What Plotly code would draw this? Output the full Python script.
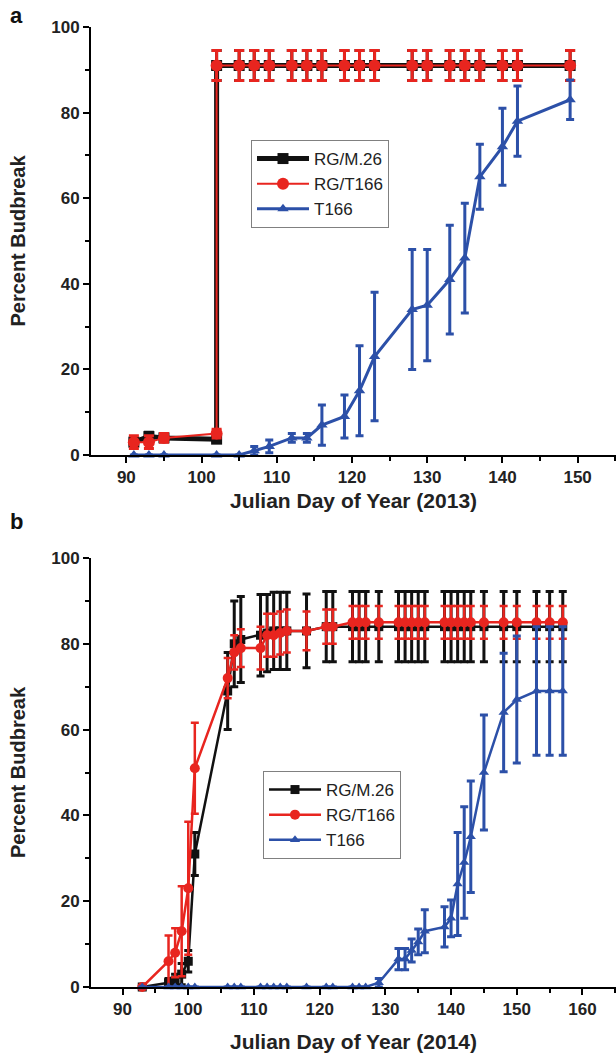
import plotly.graph_objects as go

# ---------------- Panel a (2013) ----------------
days_a_rg = [91, 93, 95, 102, 102, 105, 107, 109, 112, 114, 116, 119, 121, 123,
             128, 130, 133, 135, 137, 140, 142, 149]
m26_a = [3, 4.3, 4, 3.7, 91, 91, 91, 91, 91, 91, 91, 91, 91, 91, 91, 91, 91, 91, 91, 91, 91, 91]
m26_a_err = [0.5, 1, 0.5, 0.5, 3.5, 3.5, 3.5, 3.5, 3.5, 3.5, 3.5, 3.5, 3.5, 3.5,
             3.5, 3.5, 3.5, 3.5, 3.5, 3.5, 3.5, 3.5]
rgt166_a = [3, 3, 4, 5, 91, 91, 91, 91, 91, 91, 91, 91, 91, 91, 91, 91, 91, 91, 91, 91, 91, 91]
rgt166_a_err = [1.5, 1.5, 1, 1, 3.5, 3.5, 3.5, 3.5, 3.5, 3.5, 3.5, 3.5, 3.5, 3.5,
                3.5, 3.5, 3.5, 3.5, 3.5, 3.5, 3.5, 3.5]

days_a_t = [91, 93, 95, 102, 105, 107, 109, 112, 114, 116, 119, 121, 123, 128,
            130, 133, 135, 137, 140, 142, 149]
t166_a = [0, 0, 0, 0, 0, 1, 2, 4, 4, 7, 9, 15, 23, 34, 35, 41, 46, 65, 72, 78, 83]
t166_a_err = [0, 0, 0, 0, 0, 1, 1.5, 1, 1, 4.7, 5, 10.5, 15, 14, 13, 12.7, 12.8,
              7.6, 9, 8.2, 4.6]

# ---------------- Panel b (2014) ----------------
days_b = [93, 97, 98, 99, 100, 101, 106, 107, 108, 111, 112, 113, 114, 115, 118,
          121, 122, 125, 126, 127, 129, 132, 133, 134, 135, 136, 139, 140, 141,
          142, 143, 145, 148, 150, 153, 155, 157]
m26_b = [0, 1, 1.5, 3, 6, 31, 69, 80, 81, 82, 82.5, 83, 83, 83, 83, 84, 84,
         84, 84, 84, 84, 84, 84, 84, 84, 84, 84, 84, 84, 84, 84, 84, 84, 84, 84, 84, 84]
m26_b_err = [0, 1, 1.5, 2.5, 2.5, 5, 9, 10, 10, 9.5, 9, 9, 9, 9, 8.6, 8.2, 8.2,
             8.2, 8.2, 8.2, 8.2, 8.2, 8.2, 8.2, 8.2, 8.2, 8.2, 8.2, 8.2, 8.2, 8.2,
             8.2, 8.2, 8.2, 8.2, 8.2, 8.2]
rgt166_b = [0, 6, 8, 13, 23, 51, 72, 78, 79, 79, 82, 82, 82.5, 83, 83, 84, 84,
            85, 85, 85, 85, 85, 85, 85, 85, 85, 85, 85, 85, 85, 85, 85, 85, 85, 85, 85, 85]
rgt166_b_err = [0, 6, 5.7, 10.5, 15.5, 10.6, 4.7, 4, 4.4, 5, 5, 5, 5, 5, 4.5, 4, 4,
                3.8, 3.8, 3.8, 3.8, 3.8, 3.8, 3.8, 3.8, 3.8, 3.8, 3.8, 3.8, 3.8, 3.8,
                3.8, 3.8, 3.8, 3.8, 3.8, 3.8]
t166_b = [0, 0, 0, 0, 0, 0, 0, 0, 0, 0, 0, 0, 0, 0, 0, 0, 0, 0, 0, 0,
          1, 6.5, 6.5, 8.5, 10.5, 13, 14, 16, 24, 29, 35, 50, 64, 67, 69, 69, 69]
t166_b_err = [0, 0, 0, 0, 0, 0, 0, 0, 0, 0, 0, 0, 0, 0, 0, 0, 0, 0, 0, 0,
              1, 2.5, 2.5, 2.7, 3, 5, 4.7, 4.3, 12, 13, 13, 13.4, 13.8, 14.8, 15, 15, 15]

series_names = ["RG/M.26", "RG/T166", "T166"]
x_ticks_a = [90, 100, 110, 120, 130, 140, 150]
x_ticks_b = [90, 100, 110, 120, 130, 140, 150, 160]
y_ticks = [0, 20, 40, 60, 80, 100]

BLACK = "#111111"
RED = "#e8251f"
BLUE = "#2c50a8"
FONT = "Liberation Sans"
W, H = 616, 1060


def errs(a):
    return [v if v else None for v in a]


fig = go.Figure()

# Panel a traces
fig.add_trace(go.Scatter(
    x=days_a_rg, y=m26_a, name=series_names[0], mode="lines+markers",
    line=dict(color=BLACK, width=5),
    marker=dict(symbol="square", size=11, color=BLACK),
    error_y=dict(type="data", array=errs(m26_a_err), color=BLACK, thickness=3, width=5),
    xaxis="x", yaxis="y", legend="legend", cliponaxis=False))
fig.add_trace(go.Scatter(
    x=days_a_rg, y=rgt166_a, name=series_names[1], mode="lines+markers",
    line=dict(color=RED, width=2),
    marker=dict(symbol="circle", size=12, color=RED),
    error_y=dict(type="data", array=errs(rgt166_a_err), color=RED, thickness=3, width=5),
    xaxis="x", yaxis="y", legend="legend", cliponaxis=False))
fig.add_trace(go.Scatter(
    x=days_a_t, y=t166_a, name=series_names[2], mode="lines+markers",
    line=dict(color=BLUE, width=3),
    marker=dict(symbol="triangle-up", size=10, color=BLUE),
    error_y=dict(type="data", array=errs(t166_a_err), color=BLUE, thickness=3, width=4),
    xaxis="x", yaxis="y", legend="legend", cliponaxis=False))

# Panel b traces
fig.add_trace(go.Scatter(
    x=days_b, y=m26_b, name=series_names[0], mode="lines+markers",
    line=dict(color=BLACK, width=2.5),
    marker=dict(symbol="square", size=9, color=BLACK),
    error_y=dict(type="data", array=errs(m26_b_err), color=BLACK, thickness=3, width=4),
    xaxis="x2", yaxis="y2", legend="legend2", cliponaxis=False))
fig.add_trace(go.Scatter(
    x=days_b, y=rgt166_b, name=series_names[1], mode="lines+markers",
    line=dict(color=RED, width=2.5),
    marker=dict(symbol="circle", size=10, color=RED),
    error_y=dict(type="data", array=errs(rgt166_b_err), color=RED, thickness=2.5, width=4),
    xaxis="x2", yaxis="y2", legend="legend2", cliponaxis=False))
fig.add_trace(go.Scatter(
    x=days_b, y=t166_b, name=series_names[2], mode="lines+markers",
    line=dict(color=BLUE, width=2.5),
    marker=dict(symbol="triangle-up", size=9, color=BLUE),
    error_y=dict(type="data", array=errs(t166_b_err), color=BLUE, thickness=3, width=4),
    xaxis="x2", yaxis="y2", legend="legend2", cliponaxis=False))

tickfont = dict(family=FONT, size=17, color="#222222", weight="bold")
xtitlefont = dict(family=FONT, size=21, color="#222222", weight="bold")
ytitlefont = dict(family=FONT, size=20, color="#222222", weight="bold")


def axis_common():
    return dict(showline=True, linecolor="black", linewidth=2, mirror=False,
                ticks="outside", ticklen=6, tickwidth=2, tickcolor="black",
                showgrid=False, zeroline=False, tickfont=tickfont,
                automargin=False)


xa = axis_common()
xa.update(domain=[91 / W, 1.0], range=[85.3, 155.1], tickvals=x_ticks_a,
          minor=dict(ticks="outside", ticklen=4, tickwidth=2, tickcolor="black", dtick=5, tick0=0),
          anchor="y")
ya = axis_common()
ya.update(domain=[1 - 455 / H, 1 - 27 / H], range=[0, 100], tickvals=y_ticks,
          minor=dict(ticks="outside", ticklen=4, tickwidth=2, tickcolor="black", dtick=10, tick0=0),
          title=dict(text="Percent Budbreak", font=ytitlefont, standoff=20),
          anchor="x")
xb = axis_common()
xb.update(domain=[91 / W, 1.0], range=[85.2, 165.1], tickvals=x_ticks_b,
          minor=dict(ticks="outside", ticklen=4, tickwidth=2, tickcolor="black", dtick=5, tick0=0),
          title=dict(text="Julian Day of Year (2014)", font=xtitlefont, standoff=16),
          anchor="y2")
yb = axis_common()
yb.update(domain=[1 - 987 / H, 1 - 558 / H], range=[0, 100], tickvals=y_ticks,
          minor=dict(ticks="outside", ticklen=4, tickwidth=2, tickcolor="black", dtick=10, tick0=0),
          title=dict(text="Percent Budbreak", font=ytitlefont, standoff=20),
          anchor="x2")

legend_common = dict(xanchor="left", yanchor="top", bordercolor="#808080", borderwidth=1,
                     bgcolor="white", font=dict(family=FONT, size=17, color="#222222"),
                     itemwidth=52, tracegroupgap=0)
leg_a = dict(legend_common, x=251 / W, y=1 - 140 / H)
leg_b = dict(legend_common, x=263 / W, y=1 - 771 / H)

fig.update_layout(
    template="none",
    width=W, height=H,
    margin=dict(l=0, r=0, t=0, b=0),
    paper_bgcolor="white", plot_bgcolor="white",
    xaxis=xa, yaxis=ya, xaxis2=xb, yaxis2=yb,
    legend=leg_a, legend2=leg_b,
    showlegend=True,
    annotations=[
        dict(text="a", x=8 / W, y=1 - 15 / H, xref="paper", yref="paper",
             xanchor="left", yanchor="middle", showarrow=False,
             font=dict(family=FONT, size=22, color="#111111", weight="bold")),
        dict(text="b", x=8 / W, y=1 - 521 / H, xref="paper", yref="paper",
             xanchor="left", yanchor="middle", showarrow=False,
             font=dict(family=FONT, size=22, color="#111111", weight="bold")),
        dict(text="Julian Day of Year (2013)", x=(91 + 616) / 2 / W, y=1 - 500 / H,
             xref="paper", yref="paper", xanchor="center", yanchor="middle",
             showarrow=False, font=xtitlefont),
    ],
)

fig.write_html("out.html")
